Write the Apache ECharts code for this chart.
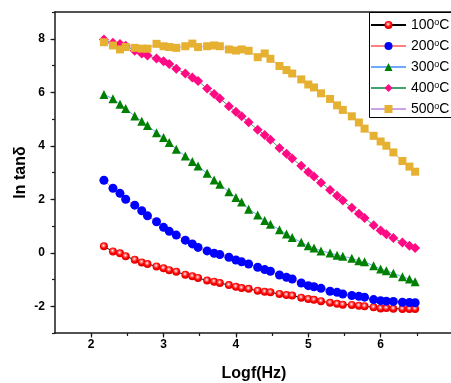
<!DOCTYPE html>
<html>
<head>
<meta charset="utf-8">
<script src="https://cdn.jsdelivr.net/npm/echarts@6/dist/echarts.min.js"></script>
<style>
html,body{margin:0;padding:0;background:#fff;}
#chart{width:451px;height:383px;}
</style>
</head>
<body>
<div id="chart"></div>
<script>
// x values: log10 of measurement frequency
const logf = [2.176, 2.301, 2.398, 2.477, 2.602, 2.699, 2.778, 2.903, 3.000, 3.079,
  3.176, 3.301, 3.398, 3.477, 3.602, 3.699, 3.778, 3.903, 4.000, 4.079,
  4.176, 4.301, 4.398, 4.477, 4.602, 4.699, 4.778, 4.903, 5.000, 5.079,
  5.176, 5.301, 5.398, 5.477, 5.602, 5.699, 5.778, 5.903, 6.000, 6.079,
  6.176, 6.301, 6.398, 6.477];

const seriesNames = ['100°C', '200°C', '300°C', '400°C', '500°C'];

const t100 = [0.24, 0.05, -0.02, -0.13, -0.26, -0.36, -0.42, -0.51, -0.58, -0.65,
  -0.71, -0.82, -0.88, -0.94, -1.04, -1.08, -1.13, -1.21, -1.27, -1.32,
  -1.35, -1.42, -1.46, -1.48, -1.54, -1.58, -1.60, -1.68, -1.73, -1.76,
  -1.81, -1.87, -1.91, -1.94, -1.95, -1.98, -2.00, -2.04, -2.08, -2.07,
  -2.09, -2.10, -2.10, -2.10];

const t200 = [2.71, 2.41, 2.22, 2.00, 1.78, 1.57, 1.38, 1.16, 0.95, 0.80,
  0.66, 0.47, 0.33, 0.20, 0.07, -0.02, -0.07, -0.17, -0.27, -0.34,
  -0.42, -0.54, -0.63, -0.69, -0.83, -0.92, -0.98, -1.13, -1.23, -1.27,
  -1.33, -1.44, -1.48, -1.54, -1.60, -1.63, -1.66, -1.75, -1.79, -1.81,
  -1.82, -1.85, -1.86, -1.87];

const t300 = [5.92, 5.76, 5.55, 5.39, 5.11, 4.92, 4.76, 4.49, 4.31, 4.12,
  3.87, 3.62, 3.41, 3.24, 2.97, 2.72, 2.56, 2.28, 2.07, 1.90,
  1.63, 1.41, 1.21, 1.07, 0.86, 0.70, 0.57, 0.39, 0.26, 0.18,
  0.07, -0.01, -0.09, -0.13, -0.21, -0.30, -0.34, -0.49, -0.61, -0.67,
  -0.77, -0.90, -0.98, -1.08];

const t400 = [7.97, 7.85, 7.80, 7.74, 7.55, 7.45, 7.37, 7.26, 7.16, 7.06,
  6.88, 6.70, 6.55, 6.42, 6.14, 5.93, 5.77, 5.48, 5.27, 5.10,
  4.88, 4.60, 4.40, 4.22, 3.92, 3.70, 3.52, 3.25, 3.02, 2.85,
  2.62, 2.35, 2.13, 1.95, 1.68, 1.46, 1.30, 1.03, 0.83, 0.69,
  0.55, 0.38, 0.26, 0.18];

const t500 = [7.87, 7.75, 7.60, 7.69, 7.66, 7.63, 7.63, 7.81, 7.72, 7.69,
  7.66, 7.72, 7.82, 7.69, 7.72, 7.75, 7.72, 7.60, 7.56, 7.60,
  7.55, 7.31, 7.45, 7.25, 6.98, 6.83, 6.70, 6.48, 6.29, 6.18,
  5.96, 5.75, 5.51, 5.34, 5.10, 4.87, 4.64, 4.37, 4.16, 4.00,
  3.75, 3.43, 3.22, 3.03];

const xTickLabels = [2, 3, 4, 5, 6];
const xMajorTicks = [2, 3, 4, 5, 6, 7];
const yMajorTicks = [-2, 0, 2, 4, 6, 8];

const FONT = 'Liberation Sans, Arial, Helvetica, sans-serif';
const AX = '#1a1a1a';

function pairs(ys) { return logf.map((x, i) => [x, ys[i]]); }

const ball = {
  type: 'radial', x: 0.45, y: 0.4, r: 0.6,
  colorStops: [
    {offset: 0, color: '#ffffff'},
    {offset: 0.3, color: '#ff6a6a'},
    {offset: 0.6, color: '#ff0000'},
    {offset: 1, color: '#d80000'}
  ]
};

const styles = [
  {symbol: 'circle', size: 8, color: ball, line: '#000000'},
  {symbol: 'circle', size: 9, color: '#0000ff', line: '#ff8080'},
  {symbol: 'triangle', size: 9, color: '#008000', line: '#6fa8ff'},
  {symbol: 'diamond', size: 10, color: '#ff0a84', line: '#3fa56c'},
  {symbol: 'rect', size: 8, color: '#e6b031', line: '#c9a3e6'}
];
const allData = [t100, t200, t300, t400, t500];

const series = allData.map((ys, i) => ({
  name: seriesNames[i],
  type: 'line',
  xAxisIndex: 0,
  yAxisIndex: 0,
  data: pairs(ys),
  symbol: styles[i].symbol,
  symbolSize: styles[i].size,
  showSymbol: true,
  lineStyle: {color: styles[i].line, width: 1},
  itemStyle: {color: styles[i].color},
  emphasis: {disabled: true},
  animation: false,
  z: 2 + i
}));

const chart = echarts.init(document.getElementById('chart'), null, {renderer: 'canvas'});
chart.setOption({
  backgroundColor: '#ffffff',
  animation: false,
  grid: {left: 55, right: -2, top: 12, bottom: 50, containLabel: false, outerBoundsMode: 'none'},
  graphic: [{
    type: 'rect', left: 369, top: 12, z: 20, silent: true,
    shape: {x: 0, y: 0, width: 120, height: 105},
    style: {fill: '#ffffff', stroke: '#000000', lineWidth: 1}
  }],
  legend: {
    orient: 'vertical',
    left: 369, top: 12,
    padding: [6, 4, 3, 1],
    itemGap: 7,
    itemWidth: 35,
    itemHeight: 10,
    borderWidth: 0,
    z: 30,
    selectedMode: false,
    data: seriesNames,
    formatter: n => n.replace('°', '{sup|o}'),
    textStyle: {
      fontFamily: FONT, fontSize: 14, color: '#000', lineHeight: 14,
      rich: {sup: {fontFamily: FONT, fontSize: 9, lineHeight: 9, verticalAlign: 'top', color: '#000'}}
    }
  },
  xAxis: [
    {
      type: 'value', min: 1.5, max: 7, interval: 0.5,
      name: 'Logf(Hz)', nameLocation: 'middle', nameGap: 33,
      nameTextStyle: {fontFamily: FONT, fontSize: 16, fontWeight: 'bold', color: '#000'},
      axisLine: {show: true, onZero: false, lineStyle: {color: AX, width: 1.5}},
      axisTick: {show: true, inside: false, length: 3, lineStyle: {color: AX, width: 1.2}},
      axisLabel: {
        margin: 6, fontFamily: FONT, fontSize: 12, fontWeight: 'bold', color: '#000',
        showMinLabel: false, showMaxLabel: false,
        formatter: v => {
          const r = Math.round(v);
          return (Math.abs(v - r) < 1e-6 && xTickLabels.indexOf(r) >= 0) ? String(r) : '';
        }
      },
      splitLine: {show: false}
    },
    {
      type: 'value', min: 1.5, max: 7, position: 'bottom',
      axisLine: {show: false, onZero: false},
      axisTick: {show: true, length: 4.5, customValues: xMajorTicks, lineStyle: {color: AX, width: 1.2}},
      axisLabel: {show: false},
      splitLine: {show: false}
    },
    {
      type: 'value', min: 1.5, max: 7, position: 'top',
      axisLine: {show: true, onZero: false, lineStyle: {color: AX, width: 1.5}},
      axisTick: {show: false}, axisLabel: {show: false}, splitLine: {show: false}
    }
  ],
  yAxis: [
    {
      type: 'value', min: -3, max: 9, interval: 1,
      name: 'ln tanδ', nameLocation: 'middle', nameGap: 26, nameMoveOverlap: false,
      nameTextStyle: {fontFamily: FONT, fontSize: 16, fontWeight: 'bold', color: '#000'},
      axisLine: {show: true, onZero: false, lineStyle: {color: AX, width: 1.5}},
      axisTick: {show: true, inside: false, length: 3, lineStyle: {color: AX, width: 1.2}},
      axisLabel: {
        margin: 10, fontFamily: FONT, fontSize: 12, fontWeight: 'bold', color: '#000',
        formatter: v => (Math.round(v) % 2 === 0 && v > -3 && v < 9 ? String(Math.round(v)) : '')
      },
      splitLine: {show: false}
    },
    {
      type: 'value', min: -3, max: 9, position: 'left',
      axisLine: {show: false, onZero: false},
      axisTick: {show: true, length: 4.5, customValues: yMajorTicks, lineStyle: {color: AX, width: 1.2}},
      axisLabel: {show: false},
      splitLine: {show: false}
    }
  ],
  series: series
});
</script>
</body>
</html>
